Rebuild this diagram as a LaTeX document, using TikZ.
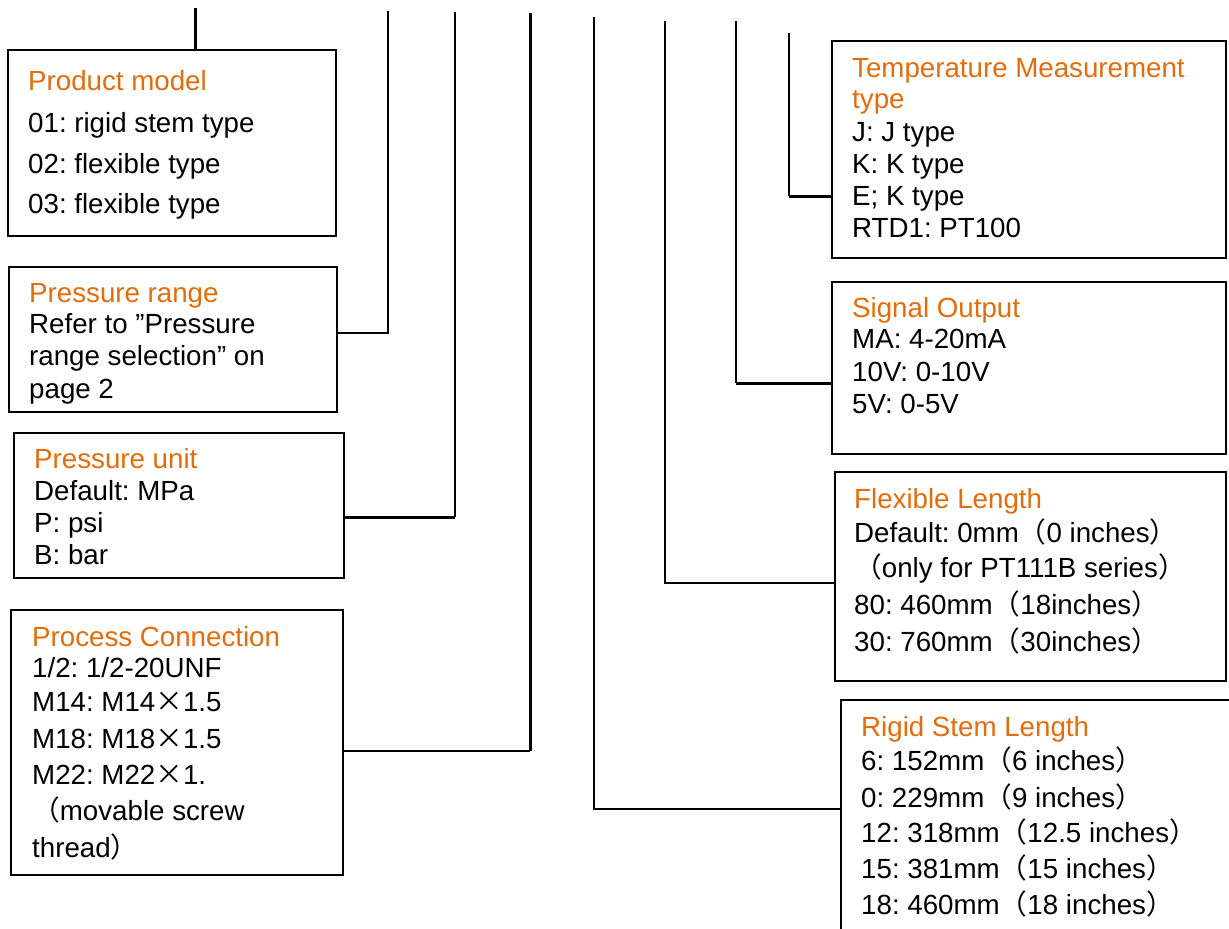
\documentclass[tikz,border=0pt]{standalone}
\usepackage{fontspec}
\setmainfont{Liberation Sans}
\newfontfamily\cjk{Noto Sans CJK SC}
\usetikzlibrary{calc}
\definecolor{headorange}{RGB}{228,108,10}
\newcommand{\lpar}{{\cjk （}}
\newcommand{\rpar}{{\cjk ）}}
\newcommand{\by}{{\cjk ×}}
\frenchspacing
\tikzset{
    field/.style={draw, line width=2pt, inner sep=0pt, anchor=north west},
    head/.style={anchor=base west, inner sep=0pt, text=headorange},
    entry/.style={anchor=base west, inner sep=0pt},
    lead/.style={line width=1.6pt},
    heavy lead/.style={line width=3pt},
}

\begin{document}
\begin{tikzpicture}[x=1pt, y=-1pt, font=\fontsize{27.7}{32}\selectfont]
    \clip (0,0) rectangle (1229,929);

    % left column
    \node[field, minimum width=328pt, minimum height=186pt] (model) at (7,49) {};
    \node[head] (modelH) at (28,90) {Product model};
    \foreach \y/\txt [count=\i] in {132/{01: rigid stem type}, 173/{02: flexible type}, 213/{03: flexible type}}
        \node[entry] (model\i) at (28,\y) {\txt};

    \node[field, minimum width=328pt, minimum height=145pt] (range) at (8,266) {};
    \node[head] (rangeH) at (29,302) {Pressure range};
    \foreach \y/\txt [count=\i] in {333/{Refer to ”Pressure}, 365/{range selection” on}, 398/{page 2}}
        \node[entry] (range\i) at (29,\y) {\txt};

    \node[field, minimum width=330pt, minimum height=145pt] (unit) at (13,432) {};
    \node[head] (unitH) at (34,468) {Pressure unit};
    \foreach \y/\txt [count=\i] in {500/{Default: MPa}, 532/{P: psi}, 564/{B: bar}}
        \node[entry] (unit\i) at (34,\y) {\txt};

    \node[field, minimum width=332pt, minimum height=265pt] (proc) at (10,609) {};
    \node[head] (procH) at (32,646) {Process Connection};
    \foreach \y/\txt [count=\i] in {677/{1/2: 1/2-20UNF}, 711/{M14: M14\by1.5}, 748/{M18: M18\by1.5},
        784/{M22: M22\by1.}, 820/{\lpar movable screw}, 857/{thread\rpar}}
        \node[entry] (proc\i) at (32,\y) {\txt};

    % right column
    \node[field, minimum width=394pt, minimum height=217pt] (temp) at (831,40) {};
    \node[head] (tempH) at (852,77) {Temperature Measurement};
    \node[head] (tempH2) at (852,108) {type};
    \foreach \y/\txt [count=\i] in {141/{J: J type}, 173/{K: K type}, 205/{E; K type}, 237/{RTD1: PT100}}
        \node[entry] (temp\i) at (852,\y) {\txt};

    \node[field, minimum width=394pt, minimum height=172pt] (signal) at (831,281) {};
    \node[head] (signalH) at (852,317) {Signal Output};
    \foreach \y/\txt [count=\i] in {348/{MA: 4-20mA}, 381/{10V: 0-10V}, 413/{5V: 0-5V}}
        \node[entry] (signal\i) at (852,\y) {\txt};

    \node[field, minimum width=391pt, minimum height=209pt] (flex) at (834,471) {};
    \node[head] (flexH) at (854,508) {Flexible Length};
    \foreach \y/\txt [count=\i] in {542/{Default: 0mm\lpar 0 inches\rpar}, 577/{\lpar only for PT111B series\rpar},
        614/{80: 460mm\lpar 18inches\rpar}, 651/{30: 760mm\lpar 30inches\rpar}}
        \node[entry] (flex\i) at (854,\y) {\txt};

    \node[field, minimum width=420pt, minimum height=260pt] (rigid) at (840,699) {};
    \node[head] (rigidH) at (861,736) {Rigid Stem Length};
    \foreach \y/\txt [count=\i] in {770/{6: 152mm\lpar 6 inches\rpar}, 807/{0: 229mm\lpar 9 inches\rpar},
        842/{12: 318mm\lpar 12.5 inches\rpar}, 878/{15: 381mm\lpar 15 inches\rpar}, 914/{18: 460mm\lpar 18 inches\rpar}}
        \node[entry] (rigid\i) at (861,\y) {\txt};

    % code leads
    \coordinate (modelTop) at (195,8);
    \coordinate (rangeTop) at (388,11);
    \coordinate (rangeBend) at (388,333);
    \coordinate (unitTop) at (455,12);
    \coordinate (unitBend) at (455,517);
    \coordinate (procTop) at (530,13);
    \coordinate (procBend) at (530,751);
    \coordinate (rigidTop) at (594,17);
    \coordinate (rigidBend) at (594,809);
    \coordinate (flexTop) at (665,21);
    \coordinate (flexBend) at (665,583);
    \coordinate (signalTop) at (736,21);
    \coordinate (signalBend) at (736,383);
    \coordinate (tempTop) at (789,33);
    \coordinate (tempBend) at (789,196);

    \draw[heavy lead] (modelTop) -- (modelTop |- model.north);
    \draw[lead] (rangeTop) -- (rangeBend) -- (rangeBend -| range.east);
    \draw[lead] (unitTop) -- (unitBend);
    \draw[heavy lead] (unitBend) -- (unitBend -| unit.east);
    \draw[heavy lead] (procTop) -- (procBend);
    \draw[lead] (procBend) -- (procBend -| proc.east);
    \draw[lead] (rigidTop) -- (rigidBend) -- (rigidBend -| rigid.west);
    \draw[lead] (flexTop) -- (flexBend) -- (flexBend -| flex.west);
    \draw[lead] (signalTop) -- (signalBend);
    \draw[heavy lead] (signalBend) -- (signalBend -| signal.west);
    \draw[lead] (tempTop) -- (tempBend);
    \draw[heavy lead] (tempBend) -- (tempBend -| temp.west);
\end{tikzpicture}
\end{document}
